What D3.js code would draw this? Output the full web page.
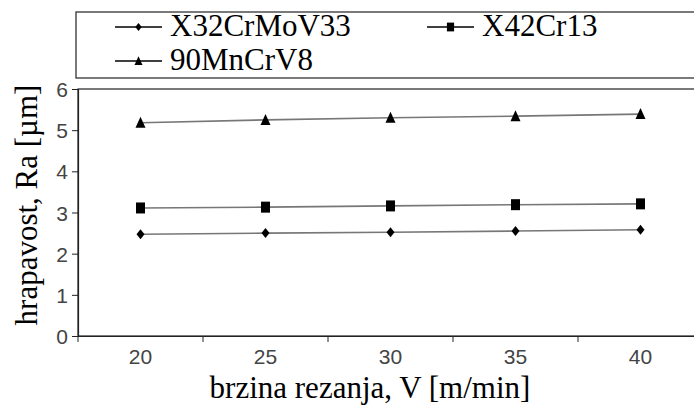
<!DOCTYPE html>
<html><head><meta charset="utf-8">
<script src="https://cdn.jsdelivr.net/npm/d3@7"></script>
<style>body{margin:0;background:#fff}svg{display:block}</style>
</head><body><svg id="c" width="694" height="405"></svg>
<script>
const categories = ["20","25","30","35","40"];
const seriesNames = ["X32CrMoV33","X42Cr13","90MnCrV8"];
const x32 = [2.47,2.50,2.52,2.55,2.58];
const x42 = [3.11,3.13,3.16,3.19,3.21];
const mn90 = [5.18,5.25,5.30,5.34,5.39];
const yTicks = [0,1,2,3,4,5,6];

(function(){
const SERIF = '"Liberation Serif", "Times New Roman", serif';
const SANS = '"Liberation Sans", Arial, sans-serif';
const series = [
  {name: seriesNames[0], values: x32, sym: "diamond"},
  {name: seriesNames[1], values: x42, sym: "square"},
  {name: seriesNames[2], values: mn90, sym: "triangle"}
];

const svg = d3.select("#c");
const pL = 78, pT = 89, pB = 336, pR = 703;
const x = d3.scaleBand().domain(categories).range([pL, pR]);
const y = d3.scaleLinear().domain([0,6]).range([pB, pT]);

function symPath(s){
  if (s==="diamond") return "M0,-5L4,0L0,5L-4,0Z";
  if (s==="square") return "M-4.5,-5.5H4.5V5.5H-4.5Z";
  return "M0,-6L5,5H-5Z";
}

svg.append("rect").attr("x",pL).attr("y",pT).attr("width",pR-pL+20).attr("height",pB-pT)
  .attr("fill","none").attr("stroke","#222").attr("stroke-width",1.2);

const ya = svg.append("g").attr("transform",`translate(${pL},0)`)
  .call(d3.axisLeft(y).tickValues(yTicks).tickSize(6).tickPadding(4).tickFormat(d3.format("d")));
ya.select(".domain").attr("stroke","#222").attr("stroke-width",1.2);
ya.selectAll(".tick line").attr("stroke","#222");
ya.selectAll("text").style("font-family",SANS).style("fill","#444").attr("font-size",21).attr("dy","0.36em");

const xa = svg.append("g").attr("transform",`translate(0,${pB})`)
  .call(d3.axisBottom(x).tickSize(0).tickPadding(13));
xa.select(".domain").attr("stroke","#222").attr("stroke-width",1.2);
xa.selectAll("text").style("font-family",SANS).style("fill","#444").attr("font-size",21);
xa.selectAll(".bt").data(categories).enter().append("line").attr("class","bt")
  .attr("x1",d=>x(d)).attr("x2",d=>x(d)).attr("y1",0).attr("y2",6).attr("stroke","#222");

const line = d3.line().x((d,i)=>x(categories[i])+x.bandwidth()/2).y(d=>y(d));
series.forEach(s=>{
  svg.append("path").attr("d",line(s.values)).attr("fill","none").attr("stroke","#777").attr("stroke-width",1.6);
  svg.selectAll(null).data(s.values).enter().append("path")
    .attr("d",symPath(s.sym))
    .attr("transform",(d,i)=>`translate(${x(categories[i])+x.bandwidth()/2},${y(d)})`)
    .attr("fill","#000");
});

svg.append("rect").attr("x",76).attr("y",12).attr("width",640).attr("height",66)
  .attr("fill","#fff").attr("stroke","#222").attr("stroke-width",1.2);
const legPos = [{lx:115, ty:27},{lx:427, ty:27},{lx:115, ty:61}];
series.forEach((s,i)=>{
  const p = legPos[i];
  svg.append("line").attr("x1",p.lx).attr("x2",p.lx+47).attr("y1",p.ty).attr("y2",p.ty).attr("stroke","#000").attr("stroke-width",1.3);
  svg.append("path").attr("d",symPath(s.sym)).attr("transform",`translate(${p.lx+23.5},${p.ty}) scale(0.8)`).attr("fill","#000");
  svg.append("text").attr("x",p.lx+55).attr("y",p.ty+9).text(s.name)
    .style("font-family",SERIF).style("fill","#000").style("font-size","31px");
});

svg.append("text").attr("x",370).attr("y",398).attr("text-anchor","middle").text("brzina rezanja, V [m/min]")
  .style("font-family",SERIF).style("fill","#000").style("font-size","31px");
svg.append("text").attr("transform",`translate(37,205) rotate(-90)`).attr("text-anchor","middle")
  .text("hrapavost, Ra [µm]")
  .style("font-family",SERIF).style("fill","#000").style("font-size","31px");
})();
</script></body></html>
